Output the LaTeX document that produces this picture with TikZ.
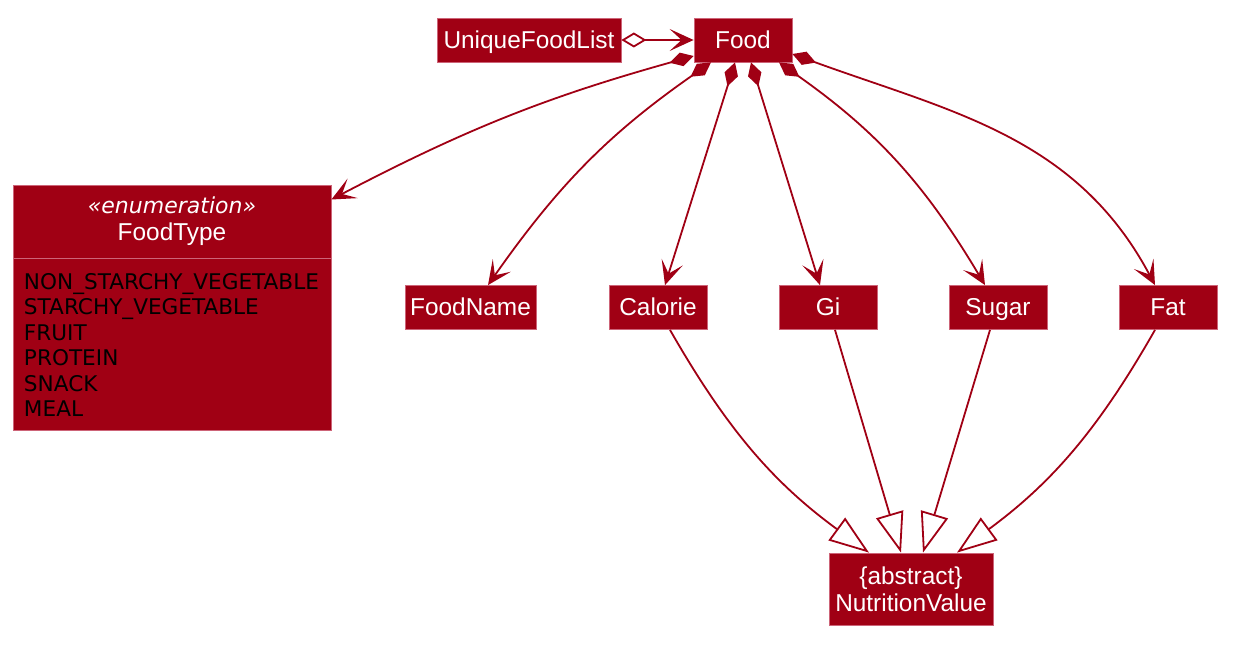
\documentclass[tikz,border=0pt]{standalone}
\usepackage{fontspec}
\setmainfont{Liberation Sans}
\newfontfamily\enumfont{DejaVu Sans}
\usetikzlibrary{arrows.meta, positioning}
\definecolor{umlred}{RGB}{160, 0, 20}
\definecolor{umlborder}{RGB}{205, 100, 120}

\begin{document}
\begin{tikzpicture}[x=0.5pt, y=0.5pt,
    cls/.style={draw=umlborder, fill=umlred, text=white, line width=0.4pt, inner sep=0pt,
        minimum height=22pt, align=center, font=\fontsize{12.2}{13.5}\selectfont},
    single/.style={cls, text height=9.6pt, text depth=1.4pt},
    link/.style={draw=umlred, line width=0.9pt},
    owns/.style={link, {Diamond[length=12.5pt,width=7pt]}-{Stealth[length=12pt,width=11pt,inset=6pt]}},
    holds/.style={link, {Diamond[open,fill=white,length=12.5pt,width=7.5pt]}-{Stealth[length=12pt,width=11pt,inset=6pt]}},
    extends/.style={link, -{Triangle[open,fill=white,length=20pt,width=14pt]}}]
    \useasboundingbox (0,0) rectangle (1238,-647);

    % Top row
    \node[single, minimum width=92pt] (uniquelist) at (529,-40) {UniqueFoodList};
    \node[single, minimum width=49pt] (food) at (743,-40) {Food};

    % Enumeration box
    \node[cls, minimum width=159pt, minimum height=36.5pt] (foodtype) at (172,-221.5)
        {\enumfont\itshape\fontsize{11}{14}\selectfont «enumeration»\\\fontsize{12.2}{14}\selectfont FoodType};
    \node[cls, minimum width=159pt, minimum height=86pt, text=black, align=left,
        text width=148pt, font=\enumfont\fontsize{10.8}{12.75}\selectfont, below=0pt of foodtype]
        (foodtypevals) {NON\_STARCHY\_VEGETABLE\\STARCHY\_VEGETABLE\\FRUIT\\PROTEIN\\SNACK\\MEAL};

    % Attribute classes
    \node[single, minimum width=65.5pt] (foodname) at (470.5,-307.5) {FoodName};
    \foreach \n/\t/\x in {calorie/Calorie/658, gi/Gi/828, sugar/Sugar/998, fat/Fat/1168} {
        \node[single, minimum width=49pt] (\n) at (\x,-307.5) {\t};
    }
    \node[cls, minimum width=82pt, minimum height=36pt] (nutrition) at (911,-589)
        {\{abstract\}\\NutritionValue};

    % Aggregation and composition
    \draw[holds] (uniquelist) -- (food);
    \draw[owns] ([yshift=-8pt]food.west) to[bend right=6] ([yshift=11pt]foodtype.east);
    \draw[owns] ([xshift=-16pt]food.south) to[bend right=10] ([xshift=8.75pt]foodname.north);
    \draw[owns] ([xshift=-4pt]food.south) -- ([xshift=3.5pt]calorie.north);
    \draw[owns] ([xshift=4pt]food.south) -- ([xshift=-4pt]gi.north);
    \draw[owns] ([xshift=18pt]food.south) to[bend left=12] ([xshift=-6.5pt]sugar.north);
    \draw[owns] ([yshift=-7pt]food.east) to[out=-20, in=118] ([xshift=-6.5pt]fat.north);

    % Inheritance
    \draw[extends] ([xshift=6pt]calorie.south) to[bend right=12] ([xshift=-21pt]nutrition.north);
    \draw[extends] ([xshift=3.5pt]gi.south) -- ([xshift=-5pt]nutrition.north);
    \draw[extends] ([xshift=-4pt]sugar.south) -- ([xshift=6pt]nutrition.north);
    \draw[extends] ([xshift=-6.5pt]fat.south) to[bend left=12] ([xshift=23pt]nutrition.north);
\end{tikzpicture}
\end{document}
